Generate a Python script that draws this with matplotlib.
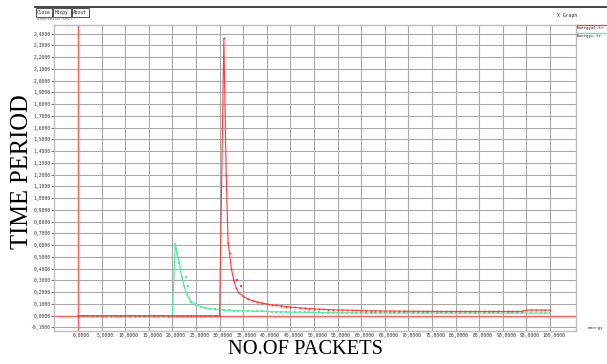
import matplotlib
matplotlib.use("Agg")
import matplotlib.pyplot as plt
import matplotlib.transforms as mtransforms

# ---------------- data ----------------
# Energyal.tr (red)
red_x = [0, 1, 2, 3, 4, 5, 6, 7, 8, 9, 10, 11, 12, 13, 14, 15, 16, 17, 18, 19, 20,
         21, 22, 23, 24, 25, 26, 27, 28, 29, 30,
         30.9, 31.4, 31.8, 32.1, 32.5, 33.0, 33.5,
         34, 35, 36, 37, 38, 39, 40, 41, 42, 43, 44, 45, 46, 47, 48, 49, 50,
         51, 52, 53, 54, 55, 56, 57, 58, 59, 60, 61, 62, 63, 64, 65, 66, 67, 68, 69, 70,
         71, 72, 73, 74, 75, 76, 77, 78, 79, 80, 81, 82, 83, 84, 85, 86, 87, 88, 89, 90,
         91, 92, 93, 94, 95, 96, 97, 98, 99, 100]
red_y = [0.0, 0.0, 0.0, 0.0, 0.0, 0.0, 0.0, 0.0, 0.0, 0.0, 0.0, 0.0, 0.0, 0.0, 0.0, 0.0, 0.0, 0.0, 0.0, 0.0, 0.0,
         0.0, 0.0, 0.0, 0.0, 0.0, 0.0, 0.0, 0.0, 0.0, 0.0,
         2.36, 1.20, 0.62, 0.53, 0.40, 0.30, 0.24,
         0.200, 0.165, 0.142, 0.128, 0.117, 0.108, 0.100, 0.094, 0.088, 0.083, 0.078, 0.074, 0.070, 0.067, 0.064, 0.061, 0.058,
         0.056, 0.054, 0.052, 0.050, 0.049, 0.048, 0.047, 0.046, 0.045, 0.044, 0.043, 0.042, 0.042, 0.041, 0.040, 0.040, 0.039, 0.039, 0.038, 0.038,
         0.038, 0.037, 0.037, 0.037, 0.037, 0.036, 0.036, 0.036, 0.036, 0.036, 0.036, 0.036, 0.036, 0.036, 0.036, 0.036, 0.036, 0.036, 0.036, 0.036,
         0.036, 0.036, 0.036, 0.036, 0.048, 0.048, 0.048, 0.048, 0.048, 0.048]
red_out_x = [33.6, 34.5]
red_out_y = [0.30, 0.255]

# Energyc.tr (green)
green_x = [0, 1, 2, 3, 4, 5, 6, 7, 8, 9, 10, 11, 12, 13, 14, 15, 16, 17, 18, 19, 20,
           20.6, 21.0, 21.5, 22.0, 22.5, 23.0, 23.5,
           24, 25, 26, 27, 28, 29, 30, 31, 32, 33, 34, 35, 36, 37, 38, 39, 40,
           41, 42, 43, 44, 45, 46, 47, 48, 49, 50, 51, 52, 53, 54, 55, 56, 57, 58, 59, 60,
           61, 62, 63, 64, 65, 66, 67, 68, 69, 70, 71, 72, 73, 74, 75, 76, 77, 78, 79, 80,
           81, 82, 83, 84, 85, 86, 87, 88, 89, 90, 91, 92, 93, 94, 95, 96, 97, 98, 99, 100]
green_y = [0.0, 0.0, 0.0, 0.0, 0.0, 0.0, 0.0, 0.0, 0.0, 0.0, 0.0, 0.0, 0.0, 0.0, 0.0, 0.0, 0.0, 0.0, 0.0, 0.0, 0.0,
           0.61, 0.53, 0.45, 0.33, 0.25, 0.19, 0.15,
           0.120, 0.095, 0.078, 0.068, 0.060, 0.055, 0.051, 0.048, 0.046, 0.044, 0.043, 0.041, 0.040, 0.039, 0.038, 0.037, 0.036,
           0.035, 0.034, 0.033, 0.032, 0.031, 0.030, 0.030, 0.029, 0.029, 0.028, 0.028, 0.027, 0.027, 0.026, 0.026, 0.025, 0.025, 0.025, 0.025, 0.024,
           0.024, 0.024, 0.024, 0.024, 0.023, 0.023, 0.023, 0.023, 0.023, 0.023, 0.023, 0.023, 0.023, 0.023, 0.023, 0.022, 0.022, 0.022, 0.022, 0.022,
           0.022, 0.022, 0.022, 0.022, 0.022, 0.022, 0.022, 0.022, 0.022, 0.022, 0.022, 0.022, 0.022, 0.022, 0.022, 0.022, 0.022, 0.022, 0.022, 0.022]
green_out_x = [22.8, 23.3]
green_out_y = [0.33, 0.25]

x_ticks = [0, 5, 10, 15, 20, 25, 30, 35, 40, 45, 50, 55, 60, 65, 70, 75, 80, 85, 90, 95, 100]
y_ticks = [-0.1, 0.0, 0.1, 0.2, 0.3, 0.4, 0.5, 0.6, 0.7, 0.8, 0.9, 1.0, 1.1, 1.2,
           1.3, 1.4, 1.5, 1.6, 1.7, 1.8, 1.9, 2.0, 2.1, 2.2, 2.3, 2.4]
legend_names = ["Energyal.tr", "Energyc.tr"]

RED = "#ff3b3b"
GREEN = "#4ff0a6"
AXRED = "#ff6060"
GRID = "#a8a8a8"
TICKFS = 3.4

W, H = 607, 364
fig = plt.figure(figsize=(W / 100, H / 100), dpi=100)
fig.patch.set_facecolor("white")

# plot area in pixels: left 54, right 576, top 25, bottom 331
L, R, T, B = 54, 576, 25, 331
ax = fig.add_axes([L / W, 1 - B / H, (R - L) / W, (B - T) / H])
ax.set_xlim(-5.08, 105.5)
ax.set_ylim(-0.130, 2.474)

ax.set_xticks(x_ticks)
ax.set_yticks(y_ticks)
ax.set_xticklabels([("%.4f" % v).replace(".", ",") for v in x_ticks],
                   family="DejaVu Sans Mono", fontsize=TICKFS, color="#333333")
ax.set_yticklabels([("%.4f" % v).replace(".", ",") for v in y_ticks],
                   family="DejaVu Sans Mono", fontsize=TICKFS, color="#333333")
ax.tick_params(axis="y", length=2, width=0.6, color="#555555", pad=0.5)
ax.tick_params(axis="x", length=0, pad=1.5)
offset = mtransforms.ScaledTranslation(3.5 / 100, 0, fig.dpi_scale_trans)
for lab in ax.get_xticklabels():
    lab.set_transform(lab.get_transform() + offset)

ax.grid(True, color=GRID, lw=0.8)
ax.set_axisbelow(True)
for s in ax.spines.values():
    s.set_color("#bdbdbd")
    s.set_linewidth(1.0)

# red axis lines
ax.axhline(0, color=AXRED, lw=1.0, zorder=1.5)
ax.axvline(0, color=AXRED, lw=1.0, zorder=1.5)

ax.plot(green_x, green_y, color=GREEN, lw=0.9, marker="s", ms=2.0, mew=0, zorder=3)
ax.plot(green_out_x, green_out_y, ls="none", color=GREEN, marker="s", ms=2.0, mew=0, zorder=3)
ax.plot(red_x, red_y, color=RED, lw=0.8, marker="s", ms=1.3, mew=0, zorder=4)
ax.plot(red_out_x, red_out_y, ls="none", color=RED, marker="s", ms=1.5, mew=0, zorder=4)

# ---------------- decorations ----------------
def px(x, y):
    return x / W, 1 - y / H

fig.add_artist(plt.Line2D([35 / W, 1.0], [1 - 6.5 / H, 1 - 6.5 / H], color="#222222", lw=1.2))

for lbl, x0, x1 in [("Close", 35.5, 51.5), ("Hdcpy", 52.5, 70.5), ("About", 71.5, 88.5)]:
    fig.add_artist(plt.Rectangle(px(x0, 16.5), (x1 - x0) / W, 8 / H, fill=False,
                                 ec="#333333", lw=0.6))
    fig.text(*px((x0 + x1) / 2, 12.5), lbl, ha="center", va="center",
             family="DejaVu Sans Mono", fontsize=3.3, color="#222222")
fig.text(*px(36, 19.5), "TIMEPERIOD(sec)", ha="left", va="center",
         family="DejaVu Sans Mono", fontsize=3.1, color="#666666")

fig.text(*px(567, 15), "X Graph", ha="center", va="center",
         family="DejaVu Sans Mono", fontsize=3.4, color="#222222")

# legend at right
for i, (name, col) in enumerate(zip(legend_names, [RED, GREEN])):
    yl = 25 + i * 7.5
    fig.add_artist(plt.Line2D([577 / W, 607 / W], [1 - yl / H, 1 - yl / H], color=col, lw=0.9))
    fig.text(*px(577, yl + 3.5), name, ha="left", va="center",
             family="DejaVu Sans Mono", fontsize=3.1, color="#222222")

fig.text(*px(588, 328), "energy", ha="left", va="center",
         family="DejaVu Sans Mono", fontsize=3.2, color="#333333")

fig.text(*px(22, 172), "TIME PERIOD", rotation=90, ha="center", va="center",
         family="Liberation Serif", fontsize=17.7, color="black")
fig.text(*px(306, 350), "NO.OF PACKETS", ha="center", va="center",
         family="Liberation Serif", fontsize=14.8, color="black")

fig.savefig("out.png", dpi=100, facecolor="white")
